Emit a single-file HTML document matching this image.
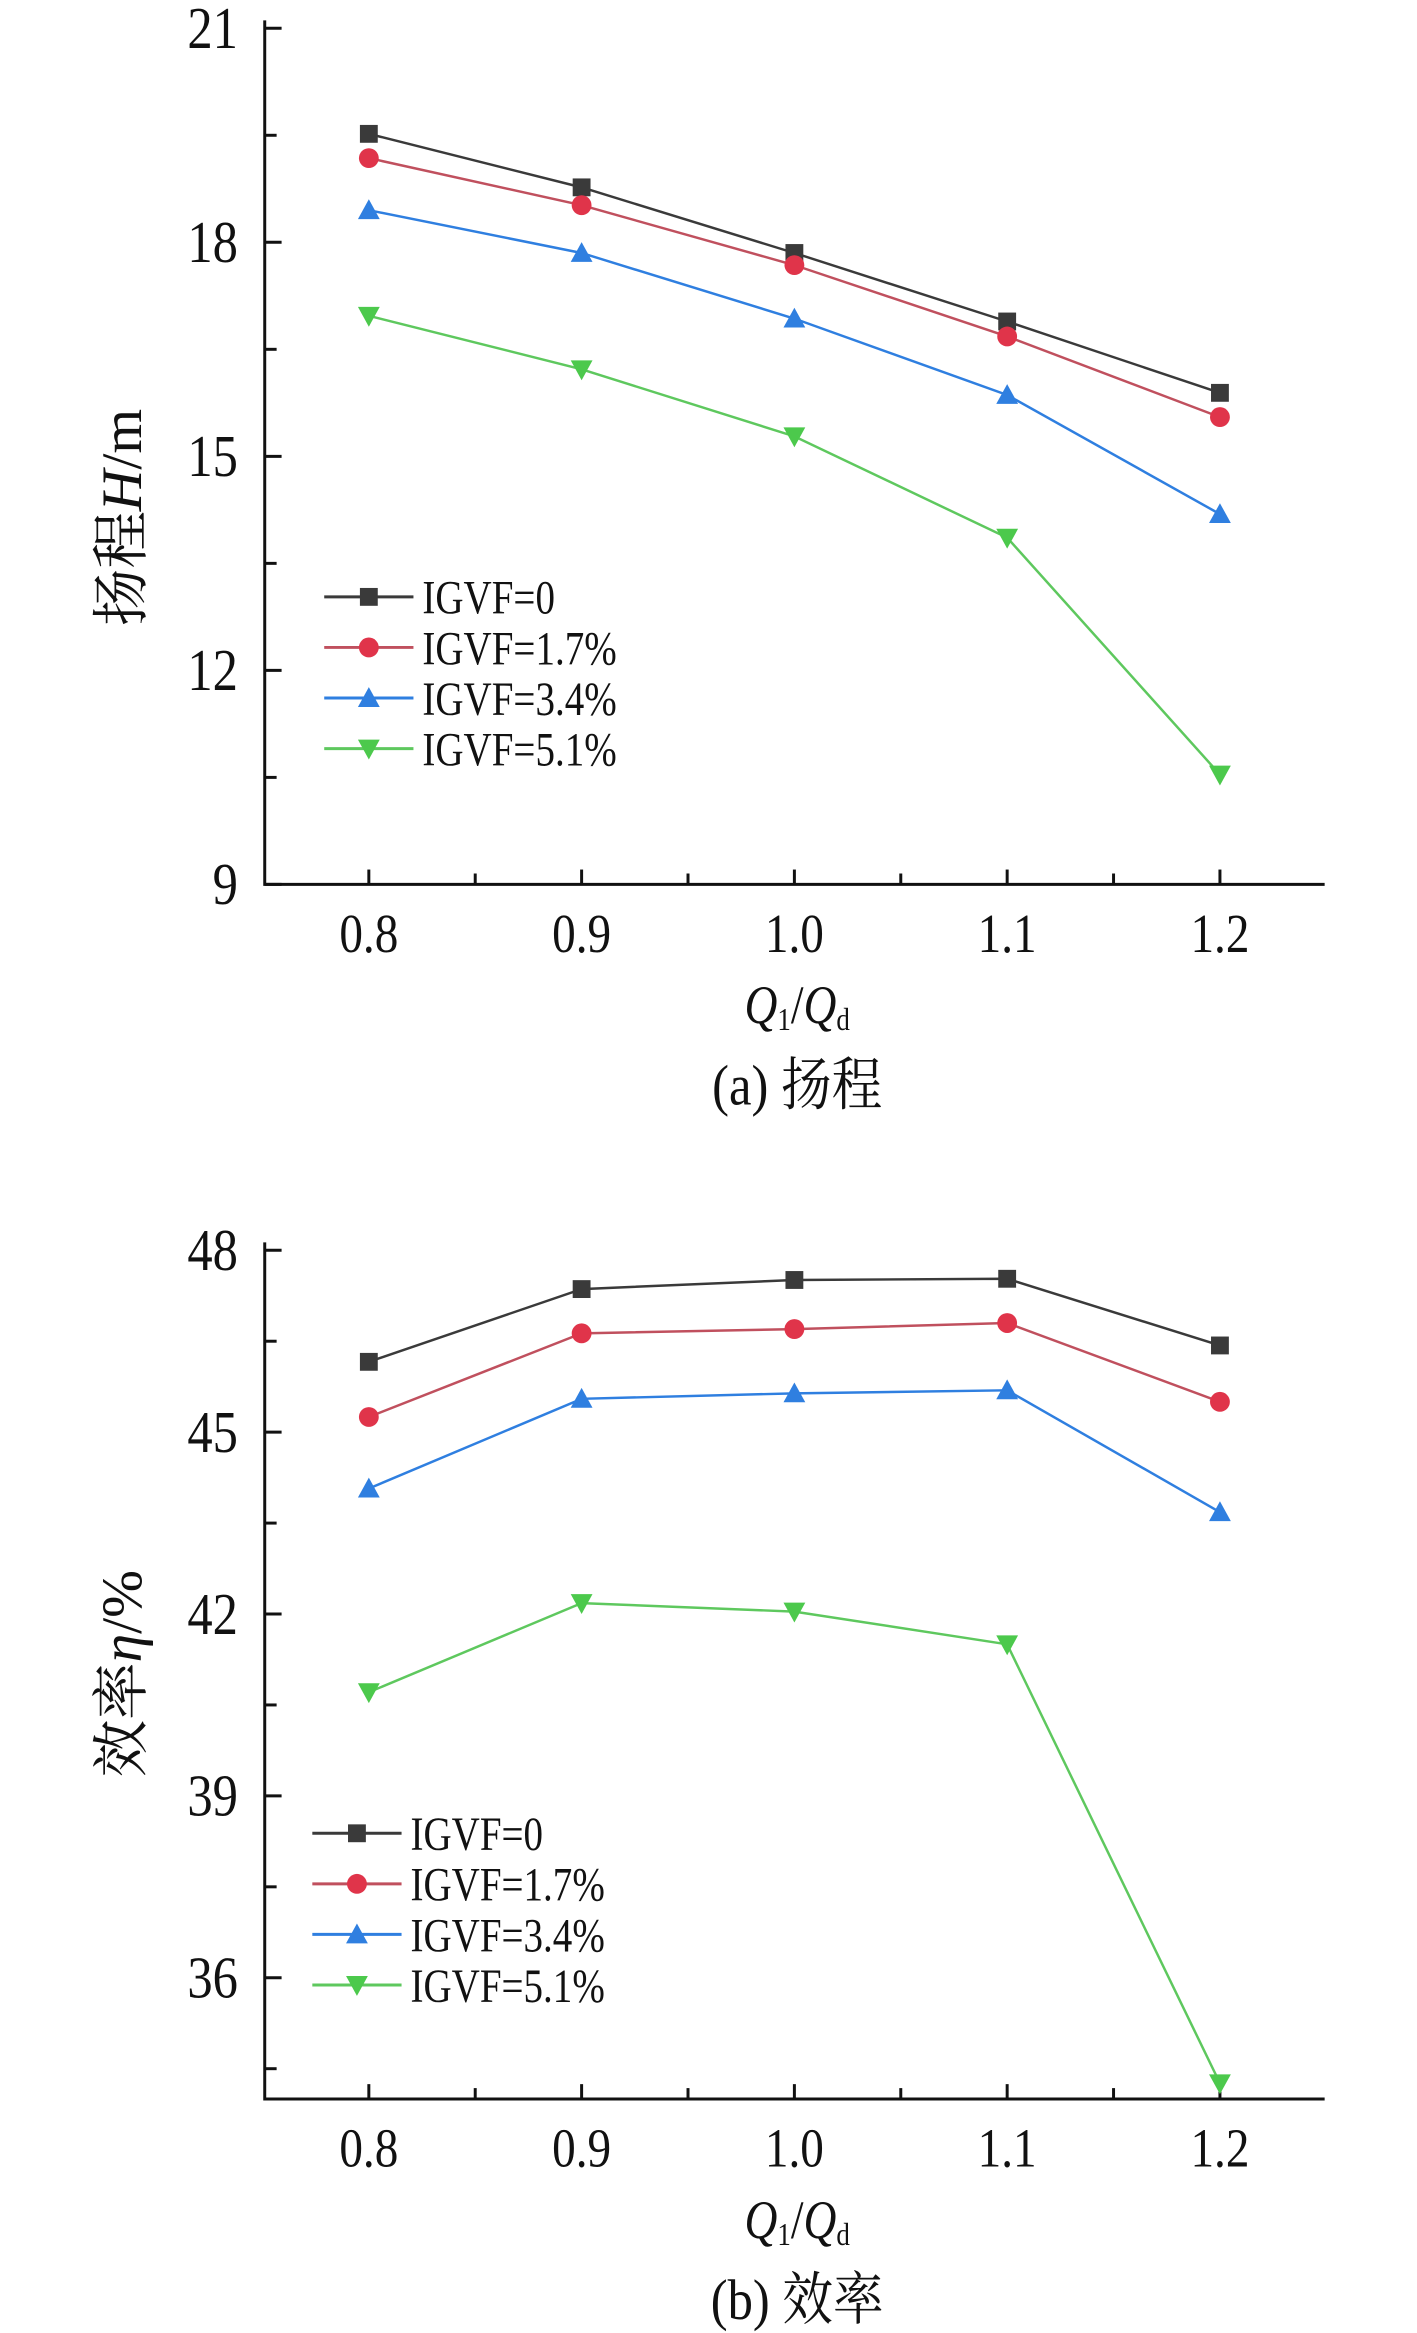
<!DOCTYPE html>
<html><head><meta charset="utf-8"><style>
html,body{margin:0;padding:0;background:#fff}
svg{display:block}
text{font-family:"Liberation Serif","Noto Serif CJK SC",serif;fill:#111}
</style></head><body>
<svg id="svg" width="1417" height="2333" viewBox="0 0 1417 2333" xmlns="http://www.w3.org/2000/svg"><g id="root" transform="scale(0.9915)"></g></svg>
<script>
const categories=[0.8,0.9,1.0,1.1,1.2];
const seriesNames=["IGVF=0","IGVF=1.7%","IGVF=3.4%","IGVF=5.1%"];
const headA0=[19.52,18.77,17.85,16.89,15.89];
const headA17=[19.18,18.52,17.68,16.68,15.55];
const headA34=[18.45,17.85,16.93,15.86,14.19];
const headA51=[16.97,16.22,15.28,13.86,10.54];
const effB0=[46.16,47.36,47.51,47.53,46.43];
const effB17=[45.25,46.63,46.70,46.80,45.50];
const effB34=[44.07,45.55,45.64,45.69,43.68];
const effB51=[40.71,42.18,42.04,41.50,34.26];
const headTicks=[9,12,15,18,21];
const effTicks=[36,39,42,45,48];
const xTickLabels=["0.8","0.9","1.0","1.1","1.2"];

const NS="http://www.w3.org/2000/svg";
const svg=document.getElementById('root');
const colors=["#3a3a3a","#e0344a","#2f7fe0","#4cc94c"];
const lineColors=["#3a3a3a","#c0505e","#2f7fe0","#5ec85e"];
const markers=["square","circle","up","down"];
function mk(tag,attrs,parent){const e=document.createElementNS(NS,tag);for(const k in attrs)e.setAttribute(k,attrs[k]);(parent||svg).appendChild(e);return e;}
function txt(parent,x,y,size,anchor,sx,extra){
  return mk('text',Object.assign({x:0,y:0,"font-size":size,"text-anchor":anchor,transform:`translate(${x},${y}) scale(${sx},1)`},extra||{}),parent);
}
function marker(type,x,y,c,g){
  if(type==="square")return mk('rect',{x:x-9,y:y-9,width:18,height:18,fill:c},g);
  if(type==="circle")return mk('circle',{cx:x,cy:y,r:10,fill:c},g);
  if(type==="up")return mk('polygon',{points:`${x},${y-11} ${x+11},${y+9} ${x-11},${y+9}`,fill:c},g);
  return mk('polygon',{points:`${x},${y+11} ${x+11},${y-9} ${x-11},${y-9}`,fill:c},g);
}
function chart(cfg){
  const g=mk('g',{});
  
  
  const L=267,R=1336;
  const xs=q=>372+(q-0.8)/0.1*214.6;
  const ys=v=>cfg.top+(cfg.ymax-v)/(cfg.ymax-cfg.ymin)*(cfg.bottom-cfg.top);
  const ax=mk('path',{d:`M${L},${cfg.top-8} L${L},${cfg.bottom} L${R},${cfg.bottom}`,stroke:"#111","stroke-width":3,fill:"none"},g);
  
  
  let k=0;
  for(let v=cfg.ymax;v>=cfg.ymin-0.01;v-=1.5,k++){
    const y=ys(v);mk('line',{x1:L,x2:L+(k%2===0?17:12),y1:y,y2:y,stroke:"#111","stroke-width":3},g);
  }
  cfg.ticks.forEach(t=>{const e=txt(g,240,ys(t)+20,60,"end",0.85);e.textContent=t;
    
    });
  for(let i=0;i<9;i++){const x=372+i*107.3;mk('line',{x1:x,x2:x,y1:cfg.bottom,y2:cfg.bottom-(i%2?11:15),stroke:"#111","stroke-width":3},g);}
  categories.forEach((c,i)=>{const e=txt(g,xs(c),cfg.bottom+68,56,"middle",0.85);e.textContent=xTickLabels[i];
    
    });
  const xl=txt(g,804,cfg.bottom+140,54,"middle",0.85);
  
  
  xl.innerHTML='<tspan font-style="italic">Q</tspan><tspan font-size="32" dy="7">1</tspan><tspan dy="-7">/</tspan><tspan font-style="italic">Q</tspan><tspan font-size="32" dy="7">d</tspan>';
  const cap=txt(g,804,cfg.bottom+222,58,"middle",0.88);
  cap.textContent=cfg.caption;
  
  
  const yt=mk('text',{x:0,y:0,"text-anchor":"middle","font-size":58,transform:`translate(142,${cfg.ymid}) rotate(-90)`},g);
  yt.innerHTML=cfg.ytitle;
  
  
  cfg.series.forEach((s,si)=>{
    const pl=mk('polyline',{points:s.map((v,i)=>xs(categories[i])+","+ys(v)).join(" "),fill:"none",stroke:lineColors[si],"stroke-width":2.5},g);
    
    
    s.forEach((v,i)=>{const m=marker(markers[si],xs(categories[i]),ys(v),colors[si],g);
      
      });
  });
  seriesNames.forEach((n,si)=>{const y=cfg.legY+si*51;
    const lg=mk('g',{},g);
    
    
    mk('line',{x1:cfg.legX,x2:cfg.legX+90,y1:y,y2:y,stroke:lineColors[si],"stroke-width":3},lg);
    marker(markers[si],cfg.legX+45,y,colors[si],lg);
    const t=txt(lg,cfg.legX+99,y+17,48,"start",0.82);t.textContent=n;});
}
chart({name:'head-chart',top:28.5,bottom:892,ymin:9,ymax:21,ticks:headTicks,series:[headA0,headA17,headA34,headA51],
  caption:'(a) 扬程',ytitle:'扬程<tspan font-style="italic">H</tspan>/m',ymid:522,legX:327,legY:602});
chart({name:'efficiency-chart',top:1261,bottom:2117,ymin:34,ymax:48,ticks:effTicks,series:[effB0,effB17,effB34,effB51],
  caption:'(b) 效率',ytitle:'效率<tspan font-style="italic">η</tspan>/%',ymid:1688,legX:315,legY:1849});
</script>
</body></html>
